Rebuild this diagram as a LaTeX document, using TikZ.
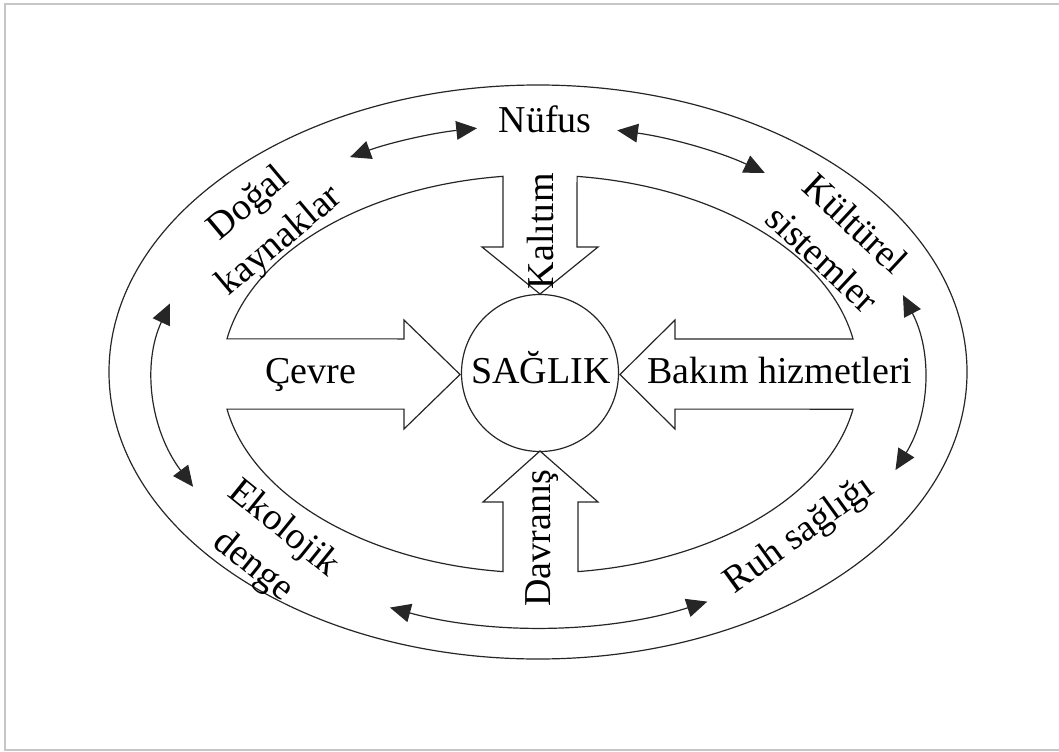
\documentclass[tikz,border=0pt]{standalone}
\usepackage{fontspec}
\setmainfont{Liberation Serif}
\usetikzlibrary{arrows.meta}
\begin{document}
% Pixel-like grid: x to the right, y downwards; radii are given in pt.
\begin{tikzpicture}[x=0.75pt,y=-0.75pt,
  lbl/.style={font=\fontsize{28.5}{34}\selectfont, inner sep=0pt, align=center},
  outline/.style={draw=black!85, line width=0.9pt},
  dbl/.style={draw=black!85, line width=0.9pt, {Triangle[length=15.5pt,width=14pt]}-{Triangle[length=15.5pt,width=14pt]}}]
\useasboundingbox (0,0) rectangle (1059,752);

% page frame
\draw[gray!45, line width=1.2pt] (1059,4) -- (5,4) -- (5,750) -- (1059,750);

% outer ellipse
\coordinate (oc) at (538,372);
\draw[outline] (oc) ellipse[x radius=321.75pt, y radius=215.25pt];

% inner figure: elliptic arcs joined by four block arrows pointing at the centre
\draw[outline, line join=miter] (503,176.35)
  arc[start angle=96.68, end angle=169.83, x radius=238.5pt, y radius=149.25pt]
  -- (404,338.9) -- (404,320) -- (460,374.5) -- (404,429) -- (404,409.1) -- (227,409.1)
  arc[start angle=190.17, end angle=263.32, x radius=238.5pt, y radius=149.25pt]
  -- (503,502) -- (483,502) -- (540,451) -- (598,502) -- (578,502) -- (578,571.6)
  arc[start angle=276.86, end angle=349.83, x radius=238.5pt, y radius=149.25pt]
  -- (675,409.1) -- (675,429) -- (620,374.5) -- (675,320) -- (675,338.9) -- (853,338.9)
  arc[start angle=10.17, end angle=83.3, x radius=238.5pt, y radius=149.25pt]
  -- (577,247) -- (598,247) -- (540,294) -- (482,247) -- (503,247) -- cycle;

% central circle
\node[circle, draw=black!85, line width=0.9pt, minimum size=117.75pt, inner sep=0pt] (health) at (540,373) {};

% labels
\node[lbl, anchor=base] (t-health) at (541,383) {SAĞLIK};
\node[lbl, anchor=base] (t-nufus) at (545,133) {Nüfus};
\node[lbl, anchor=base] (t-cevre) at (311,383) {Çevre};
\node[lbl, anchor=base] (t-bakim) at (780,383) {Bakım hizmetleri};
\node[lbl, rotate=90] (t-kalitim) at (540,231) {Kalıtım};
\node[lbl, rotate=90] (t-davranis) at (542,538) {Davranış};
\node[lbl, rotate=40] (t-dogal) at (265,223) {Doğal\\[2pt]kaynaklar};
\node[lbl, rotate=-43] (t-kultur) at (839,241) {Kültürel\\[2pt]sistemler};
\node[lbl, rotate=-39] (t-eko) at (268,548) {Ekolojik\\[2pt]denge};
\node[lbl, rotate=36] (t-ruh) at (800,536) {Ruh sağlığı};

% two-headed arrows running round the middle ellipse
\coordinate (mc) at (538.5,376);
\path (mc) ++(119.3:288.75pt and 188.25pt) coordinate (a1);
\path (mc) ++(78.2:288.75pt and 188.25pt) coordinate (a2);
\path (mc) ++(18.8:288.75pt and 188.25pt) coordinate (a3);
\path (mc) ++(-64:288.75pt and 188.25pt) coordinate (a4);
\path (mc) ++(-153.8:288.75pt and 188.25pt) coordinate (a5);
\draw[dbl] (a1) arc[start angle=119.3, end angle=99.2, x radius=288.75pt, y radius=188.25pt];
\draw[dbl] (a2) arc[start angle=78.2, end angle=54, x radius=288.75pt, y radius=188.25pt];
\draw[dbl] (a3) arc[start angle=18.8, end angle=-22, x radius=288.75pt, y radius=188.25pt];
\draw[dbl] (a4) arc[start angle=-64, end angle=-112.7, x radius=288.75pt, y radius=188.25pt];
\draw[dbl] (a5) arc[start angle=-153.8, end angle=-196.8, x radius=288.75pt, y radius=188.25pt];
\end{tikzpicture}
\end{document}
